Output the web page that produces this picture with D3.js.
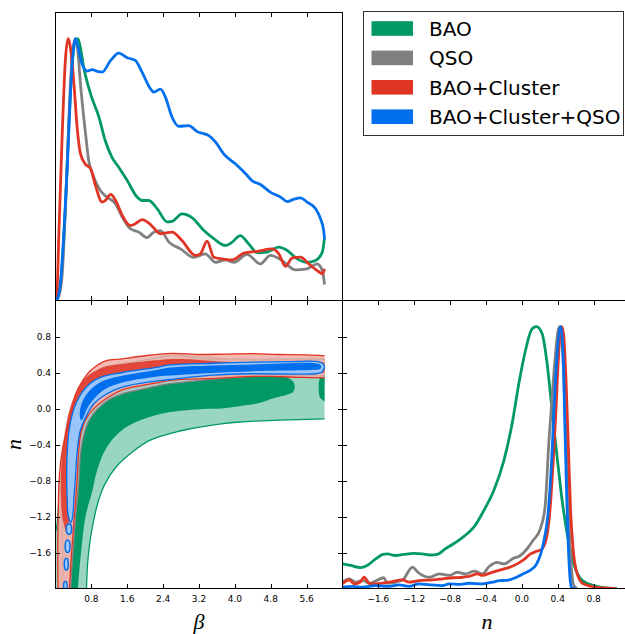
<!DOCTYPE html>
<html><head><meta charset="utf-8">
<script src="https://cdn.jsdelivr.net/npm/d3@7"></script>
<style>body{margin:0;background:#fff} svg{display:block}</style>
</head><body>
<svg id="c" width="625" height="634"></svg>
<script>
// ---------------- DATA ----------------
const seriesNames = ["BAO", "QSO", "BAO+Cluster", "BAO+Cluster+QSO"];
const betaTicks = [0.8, 1.6, 2.4, 3.2, 4.0, 4.8, 5.6];
const nTicks = [-1.6, -1.2, -0.8, -0.4, 0.0, 0.4, 0.8];

// 1D marginal of beta
const baoBeta = [[0.0,0.0],[0.06,0.02],[0.12,0.08],[0.22,0.35],[0.3,0.68],[0.38,0.92],[0.45,0.995],[0.5,1.0],[0.55,0.97],[0.63,0.89],[0.78,0.79],[0.97,0.70],[1.11,0.61],[1.26,0.547],[1.41,0.509],[1.6,0.458],[1.82,0.395],[1.93,0.382],[2.08,0.382],[2.27,0.35],[2.49,0.30],[2.6,0.302],[2.82,0.331],[3.05,0.316],[3.31,0.267],[3.53,0.236],[3.79,0.21],[3.94,0.223],[4.12,0.248],[4.31,0.216],[4.5,0.182],[4.72,0.185],[4.98,0.204],[5.17,0.191],[5.39,0.159],[5.61,0.146],[5.8,0.153],[5.95,0.185],[6.0,0.24]];
const qsoBeta = [[0.03,0.0],[0.08,0.02],[0.15,0.1],[0.22,0.35],[0.3,0.7],[0.37,0.93],[0.44,1.0],[0.5,0.95],[0.557,0.827],[0.67,0.637],[0.74,0.535],[0.855,0.471],[1.0,0.42],[1.15,0.395],[1.34,0.369],[1.49,0.318],[1.67,0.274],[1.86,0.261],[2.04,0.24],[2.19,0.261],[2.34,0.267],[2.53,0.223],[2.79,0.197],[3.08,0.165],[3.34,0.178],[3.57,0.146],[3.79,0.155],[3.98,0.146],[4.27,0.176],[4.57,0.14],[4.79,0.172],[5.05,0.153],[5.35,0.117],[5.61,0.121],[5.83,0.14],[5.95,0.115],[6.0,0.061]];
const clusterBeta = [[0.0,0.01],[0.04,0.06],[0.074,0.25],[0.15,0.637],[0.22,0.917],[0.28,1.0],[0.33,0.97],[0.41,0.83],[0.483,0.66],[0.557,0.56],[0.67,0.52],[0.78,0.505],[0.89,0.44],[1.04,0.376],[1.11,0.382],[1.23,0.405],[1.34,0.382],[1.49,0.325],[1.67,0.286],[1.78,0.293],[1.93,0.309],[2.12,0.29],[2.34,0.255],[2.6,0.261],[2.82,0.229],[3.12,0.172],[3.23,0.178],[3.38,0.227],[3.53,0.165],[3.72,0.159],[3.94,0.155],[4.2,0.181],[4.5,0.188],[4.83,0.197],[4.98,0.178],[5.13,0.13],[5.28,0.163],[5.46,0.166],[5.65,0.14],[5.83,0.115],[5.95,0.102],[6.0,0.121]];
const allBeta = [[0.0,0.0],[0.05,0.01],[0.11,0.064],[0.2,0.3],[0.26,0.5],[0.33,0.78],[0.4,0.96],[0.446,1.0],[0.5,0.97],[0.59,0.904],[0.71,0.876],[0.82,0.882],[0.93,0.875],[1.04,0.872],[1.23,0.917],[1.41,0.945],[1.6,0.927],[1.78,0.917],[1.93,0.872],[2.12,0.808],[2.19,0.796],[2.34,0.807],[2.45,0.777],[2.6,0.70],[2.75,0.665],[2.97,0.668],[3.16,0.645],[3.42,0.63],[3.57,0.605],[3.75,0.56],[4.01,0.522],[4.24,0.484],[4.38,0.458],[4.57,0.443],[4.79,0.414],[5.02,0.395],[5.17,0.378],[5.31,0.386],[5.46,0.392],[5.61,0.376],[5.8,0.35],[5.91,0.312],[5.98,0.267],[6.0,0.233]];

// 1D marginal of n
const baoN = [[-2.0,0.094],[-1.91,0.088],[-1.8,0.08],[-1.725,0.088],[-1.63,0.113],[-1.55,0.13],[-1.5,0.132],[-1.41,0.126],[-1.32,0.13],[-1.2,0.134],[-1.11,0.132],[-1.02,0.128],[-0.945,0.13],[-0.852,0.152],[-0.774,0.168],[-0.7,0.185],[-0.61,0.209],[-0.536,0.234],[-0.424,0.298],[-0.313,0.374],[-0.2,0.489],[-0.109,0.629],[-0.034,0.782],[0.04,0.909],[0.114,0.992],[0.163,1.0],[0.226,0.973],[0.282,0.858],[0.337,0.68],[0.393,0.502],[0.449,0.336],[0.505,0.209],[0.579,0.094],[0.672,0.031],[0.802,0.011],[0.91,0.003],[1.06,0.0]];
const qsoN = [[-2,0.024],[-1.926,0.037],[-1.85,0.024],[-1.78,0.031],[-1.70,0.02],[-1.54,0.041],[-1.5,0.02],[-1.33,0.033],[-1.22,0.082],[-1.16,0.062],[-1.03,0.043],[-0.92,0.056],[-0.81,0.05],[-0.72,0.062],[-0.625,0.056],[-0.53,0.066],[-0.44,0.056],[-0.365,0.084],[-0.276,0.1],[-0.2,0.094],[-0.095,0.115],[-0.02,0.125],[0.054,0.15],[0.128,0.185],[0.202,0.225],[0.258,0.31],[0.3,0.553],[0.337,0.73],[0.375,0.896],[0.404,0.985],[0.423,1.0],[0.445,0.96],[0.467,0.807],[0.497,0.527],[0.523,0.272],[0.549,0.094],[0.579,0.011],[0.616,0.0]];
const clusterN = [[-2,0.018],[-1.926,0.033],[-1.87,0.018],[-1.8,0.025],[-1.76,0.043],[-1.7,0.02],[-1.63,0.018],[-1.48,0.024],[-1.33,0.033],[-1.26,0.024],[-1.145,0.03],[-1.0,0.033],[-0.885,0.037],[-0.774,0.041],[-0.66,0.043],[-0.59,0.046],[-0.495,0.056],[-0.44,0.05],[-0.35,0.06],[-0.2,0.075],[-0.127,0.082],[-0.053,0.094],[0.022,0.11],[0.096,0.132],[0.165,0.142],[0.22,0.15],[0.276,0.196],[0.313,0.298],[0.35,0.489],[0.38,0.68],[0.406,0.871],[0.443,1.0],[0.465,0.97],[0.491,0.807],[0.517,0.553],[0.543,0.298],[0.573,0.145],[0.617,0.056],[0.684,0.018],[0.87,0.003],[1.04,0.0]];
const allN = [[-2,0.005],[-1.89,0.008],[-1.78,0.005],[-1.63,0.011],[-1.48,0.008],[-1.37,0.014],[-1.26,0.008],[-1.145,0.018],[-1.03,0.014],[-0.885,0.011],[-0.81,0.018],[-0.7,0.016],[-0.59,0.02],[-0.44,0.018],[-0.33,0.024],[-0.25,0.03],[-0.17,0.031],[-0.058,0.043],[0.016,0.056],[0.091,0.069],[0.165,0.094],[0.239,0.171],[0.295,0.298],[0.332,0.489],[0.358,0.68],[0.388,0.871],[0.432,1.0],[0.462,0.871],[0.48,0.616],[0.499,0.362],[0.517,0.171],[0.536,0.043],[0.555,0.0],[0.6,0.0]];

// 2D contours (beta, n): upper/left boundary then lower/right boundary
const bao2Upper = [[-0.1,-2.1],[-0.05,-1.5],[0.03,-1.3],[0.07,-1.05],[0.11,-0.8],[0.16,-0.55],[0.23,-0.3],[0.32,-0.1],[0.42,0.05],[0.52,0.19],[0.65,0.3],[0.8,0.38],[1.1,0.46],[1.5,0.5],[2.0,0.54],[2.6,0.59],[3.2,0.57],[4.0,0.55],[5.0,0.55],[6.0,0.55]];
const bao2Lower = [[6.0,-0.115],[5.0,-0.13],[4.1,-0.15],[3.7,-0.17],[3.0,-0.225],[2.55,-0.28],[2.1,-0.355],[1.75,-0.47],[1.35,-0.65],[1.1,-0.84],[0.96,-1.02],[0.8,-1.38],[0.72,-1.7],[0.69,-2.0],[0.68,-2.1]];
const bao1Upper = [[0.3,-2.1],[0.33,-1.5],[0.38,-1.0],[0.42,-0.6],[0.5,-0.25],[0.62,0.05],[0.85,0.22],[1.3,0.33],[2.0,0.38],[3.0,0.4],[4.0,0.4],[4.8,0.38],[5.15,0.35],[5.3,0.3],[5.34,0.24]];
const bao1Lower = [[5.3,0.18],[5.15,0.15],[4.9,0.12],[4.5,0.055],[4.1,0.025],[3.7,0.0],[3.3,-0.005],[2.56,-0.04],[2.0,-0.11],[1.6,-0.2],[1.35,-0.3],[1.1,-0.47],[0.92,-0.7],[0.82,-0.92],[0.67,-1.2],[0.57,-1.6],[0.5,-2.0],[0.49,-2.1]];
const bao1BlobUpper = [[6.0,0.4],[5.92,0.37],[5.87,0.28]];
const bao1BlobLower = [[5.87,0.2],[5.9,0.12],[6.0,0.08]];

const qso2Upper = [[0.17,-2.1],[0.16,-1.6],[0.15,-1.2],[0.16,-0.8],[0.2,-0.45],[0.28,-0.18],[0.4,0.05],[0.55,0.22],[0.8,0.36],[1.2,0.45],[1.8,0.5],[2.6,0.54],[3.5,0.54],[4.5,0.54],[5.5,0.54],[6.0,0.54]];
const qso2Lower = [[6.0,0.37],[5.0,0.365],[4.0,0.345],[3.2,0.31],[2.4,0.265],[2.23,0.245],[1.7,0.19],[1.49,0.163],[1.2,0.1],[0.93,-0.01],[0.75,-0.13],[0.63,-0.3],[0.56,-0.5],[0.52,-0.8],[0.45,-1.2],[0.39,-1.6],[0.34,-2.0],[0.34,-2.1]];

const cl2Upper = [[0.06,-2.1],[0.05,-1.6],[0.06,-1.2],[0.08,-0.8],[0.14,-0.5],[0.2,-0.35],[0.3,-0.17],[0.4,0.05],[0.45,0.16],[0.56,0.27],[0.74,0.4],[0.9,0.47],[1.12,0.53],[1.49,0.552],[1.86,0.578],[2.6,0.613],[3.2,0.6],[3.8,0.605],[4.4,0.61],[5.0,0.6],[5.6,0.595],[6.0,0.585]];
const cl2Lower = [[6.0,0.34],[5.5,0.345],[4.8,0.356],[4.42,0.356],[3.6,0.335],[2.6,0.315],[2.23,0.282],[1.49,0.208],[1.2,0.13],[0.89,0.015],[0.7,-0.1],[0.58,-0.25],[0.52,-0.45],[0.48,-0.8],[0.42,-1.2],[0.36,-1.6],[0.31,-2.0],[0.3,-2.1]];
const cl1Upper = [[0.24,-1.38],[0.15,-1.2],[0.12,-0.8],[0.16,-0.45],[0.23,-0.2],[0.32,0.0],[0.43,0.15],[0.56,0.27],[0.72,0.36],[0.9,0.42],[1.1,0.465],[1.49,0.495],[2.23,0.535],[2.6,0.55],[3.2,0.54],[3.8,0.52],[4.5,0.515],[5.2,0.515],[6.0,0.51]];
const cl1Lower = [[6.0,0.4],[5.0,0.4],[4.0,0.39],[3.0,0.35],[2.23,0.31],[1.49,0.24],[1.1,0.15],[0.85,0.04],[0.68,-0.1],[0.55,-0.3],[0.45,-0.6],[0.38,-0.95],[0.3,-1.25]];

const all2Upper = [[0.33,-1.27],[0.28,-1.18],[0.26,-1.0],[0.25,-0.8],[0.26,-0.5],[0.3,-0.25],[0.37,-0.07],[0.46,0.06],[0.58,0.17],[0.75,0.27],[1.0,0.345],[1.49,0.40],[2.23,0.455],[2.56,0.485],[3.5,0.503],[4.42,0.515],[5.2,0.52],[5.8,0.524],[5.95,0.505],[6.0,0.46]];
const all2Lower = [[5.95,0.405],[5.8,0.386],[4.42,0.386],[3.5,0.37],[2.56,0.322],[2.23,0.304],[1.49,0.237],[1.1,0.15],[0.85,0.05],[0.67,-0.1],[0.55,-0.25],[0.48,-0.5],[0.44,-0.8],[0.41,-1.0],[0.39,-1.17],[0.37,-1.24]];
const all1Upper = [[0.56,-0.13],[0.54,-0.06],[0.58,0.05],[0.68,0.15],[0.86,0.245],[1.1,0.315],[1.49,0.365],[2.23,0.425],[2.56,0.455],[3.5,0.478],[4.42,0.49],[5.8,0.504],[5.9,0.49],[5.93,0.46]];
const all1Lower = [[5.9,0.437],[5.8,0.43],[4.42,0.415],[3.5,0.395],[2.56,0.367],[2.23,0.354],[1.49,0.29],[1.1,0.215],[0.88,0.12],[0.74,0.03],[0.66,-0.05],[0.61,-0.12]];
// isolated 2-sigma islands: [beta, n, half-width beta, half-height n]
const allIslands = [[0.3,-1.34,0.06,0.06],[0.27,-1.53,0.055,0.07],[0.24,-1.73,0.045,0.065],[0.22,-1.98,0.04,0.06]];

const mainColors = ["#009966", "#808080", "#E03424", "#006FED"];
const paleColors = ["#99D6C2", "#CCCCCC", "#F3AEA7", "#99C5F8"];

// ---------------- LAYOUT ----------------
const svg = d3.select("#c");
const X0 = 55.5, X1 = 342.5, X2 = 629.5, Y0 = 12.5, Y1 = 300.5, Y2 = 588.5;
const xBeta = d3.scaleLinear().domain([0, 6.4]).range([X0, X1]);
const yN = d3.scaleLinear().domain([-2, 1.2]).range([Y2, Y1]);
const yPb = d3.scaleLinear().domain([0, 1.1]).range([Y1, Y0]);
const xN = d3.scaleLinear().domain([-2, 1.2]).range([X1, X2]);
const yPn = d3.scaleLinear().domain([0, 1.1]).range([Y2, Y1]);
const fmt = d3.format(".1f");

const defs = svg.append("defs");
function clip(id, x, y, w, h) {
  defs.append("clipPath").attr("id", id).append("rect").attr("x", x).attr("y", y).attr("width", w).attr("height", h);
}
clip("cTL", X0, Y0, X1 - X0, Y1 - Y0);
clip("cBL", X0, Y1, X1 - X0, Y2 - Y1);
clip("cBR", X1, Y1, X2 - X1, Y2 - Y1);

// ---------------- 1D beta ----------------
const gTL = svg.append("g").attr("clip-path", "url(#cTL)");
const lineB = d3.line().x(d => xBeta(d[0])).y(d => yPb(d[1])).curve(d3.curveMonotoneX);
[baoBeta, qsoBeta, clusterBeta, allBeta].forEach((s, i) => {
  gTL.append("path").attr("d", lineB(s)).attr("fill", "none")
    .attr("stroke", mainColors[i]).attr("stroke-width", 2.8).attr("stroke-linejoin", "round");
});

// ---------------- 2D ----------------
const gBL = svg.append("g").attr("clip-path", "url(#cBL)");
const lc = d3.line().x(d => xBeta(d[0])).y(d => yN(d[1])).curve(d3.curveCatmullRom.alpha(0.5));
function region(up, lo) { return lc(up) + lc(lo).replace(/^M/, "L") + "Z"; }
function fillR(up, lo, col, op) {
  gBL.append("path").attr("d", region(up, lo)).attr("fill", col).attr("fill-opacity", op).attr("stroke", "none");
}
function strokeL(pts, col) {
  gBL.append("path").attr("d", lc(pts)).attr("fill", "none").attr("stroke", col).attr("stroke-width", 1.3);
}
// BAO
fillR(bao2Upper, bao2Lower, paleColors[0], 1);
fillR(bao1Upper, bao1Lower, mainColors[0], 1);
fillR(bao1BlobUpper, bao1BlobLower, mainColors[0], 1);
strokeL(bao2Upper, mainColors[0]);
strokeL(bao2Lower, mainColors[0]);
// QSO
fillR(qso2Upper, qso2Lower, paleColors[1], 0.85);
strokeL(qso2Upper, mainColors[1]);
strokeL(qso2Lower, mainColors[1]);
// BAO+Cluster
fillR(cl2Upper, cl2Lower, paleColors[2], 0.85);
fillR(cl1Upper, cl1Lower, mainColors[2], 0.85);
strokeL(cl2Upper, mainColors[2]);
strokeL(cl2Lower, mainColors[2]);
// BAO+Cluster+QSO
gBL.append("path").attr("d", region(all2Upper, all2Lower)).attr("fill", paleColors[3])
  .attr("stroke", mainColors[3]).attr("stroke-width", 1.3);
allIslands.forEach(e => {
  gBL.append("ellipse").attr("cx", xBeta(e[0])).attr("cy", yN(e[1]))
    .attr("rx", xBeta(e[0] + e[2]) - xBeta(e[0])).attr("ry", yN(e[1]) - yN(e[1] + e[3]))
    .attr("fill", paleColors[3]).attr("stroke", mainColors[3]).attr("stroke-width", 1.5);
});
fillR(all1Upper, all1Lower, mainColors[3], 1);

// ---------------- 1D n ----------------
const gBR = svg.append("g").attr("clip-path", "url(#cBR)");
const lineN = d3.line().x(d => xN(d[0])).y(d => yPn(d[1])).curve(d3.curveMonotoneX);
[baoN, qsoN, clusterN, allN].forEach((s, i) => {
  gBR.append("path").attr("d", lineN(s)).attr("fill", "none")
    .attr("stroke", mainColors[i]).attr("stroke-width", 2.8).attr("stroke-linejoin", "round");
});

// ---------------- frames & ticks ----------------
const fr = svg.append("g").attr("fill", "none").attr("stroke", "#000").attr("stroke-width", 1);
fr.append("rect").attr("x", X0).attr("y", Y0).attr("width", X1 - X0).attr("height", Y1 - Y0);
fr.append("rect").attr("x", X0).attr("y", Y1).attr("width", X1 - X0).attr("height", Y2 - Y1);
fr.append("rect").attr("x", X1).attr("y", Y1).attr("width", X2 - X1).attr("height", Y2 - Y1);
const TL = 4.5;
function vt(x, y, dir) { fr.append("line").attr("x1", x).attr("x2", x).attr("y1", y).attr("y2", y + dir * TL); }
function ht(x, y, dir) { fr.append("line").attr("y1", y).attr("y2", y).attr("x1", x).attr("x2", x + dir * TL); }
betaTicks.forEach(t => {
  const x = Math.round(xBeta(t)) + 0.5;
  vt(x, Y0, 1); vt(x, Y1, -1); vt(x, Y1, 1); vt(x, Y2, -1);
});
nTicks.forEach(t => {
  const y = Math.round(yN(t)) + 0.5;
  ht(X0, y, 1); ht(X1, y, -1); ht(X1, y, 1);
  const x = Math.round(xN(t)) + 0.5;
  vt(x, Y1, 1); vt(x, Y2, -1);
});

// tick labels
const lab = svg.append("g").attr("font-family", "DejaVu Sans, sans-serif").attr("font-size", 9).attr("fill", "#000");
betaTicks.forEach(t => {
  lab.append("text").attr("x", xBeta(t)).attr("y", 601.5).attr("text-anchor", "middle").text(fmt(t));
});
nTicks.forEach(t => {
  lab.append("text").attr("x", xN(t)).attr("y", 601.5).attr("text-anchor", "middle").text(fmt(t));
  lab.append("text").attr("x", 51).attr("y", yN(t) + 3.3).attr("text-anchor", "end").text(fmt(t));
});

// axis labels
const ax = svg.append("g").attr("font-family", "Liberation Serif, DejaVu Serif, serif").attr("font-style", "italic").attr("font-size", 22).attr("fill", "#000");
ax.append("text").attr("x", (X0 + X1) / 2).attr("y", 628.5).attr("text-anchor", "middle").text("β");
ax.append("text").attr("x", (X1 + X2) / 2 + 1).attr("y", 628.5).attr("text-anchor", "middle").text("n");
ax.append("text").attr("transform", `translate(21,${(Y1 + Y2) / 2}) rotate(-90)`).attr("text-anchor", "middle").text("n");

// ---------------- legend ----------------
const lg = svg.append("g");
lg.append("rect").attr("x", 363.5).attr("y", 11.5).attr("width", 260).attr("height", 124)
  .attr("fill", "#fff").attr("stroke", "#333").attr("stroke-width", 1);
seriesNames.forEach((nm, i) => {
  const cy = 28.5 + i * 29.4;
  lg.append("rect").attr("x", 371.5).attr("y", cy - 7.3).attr("width", 41.5).attr("height", 14.6).attr("fill", mainColors[i]);
  lg.append("text").attr("x", 429).attr("y", cy + 7.2).attr("font-family", "DejaVu Sans, sans-serif")
    .attr("font-size", 20).attr("fill", "#000").text(nm);
});
</script></body></html>
